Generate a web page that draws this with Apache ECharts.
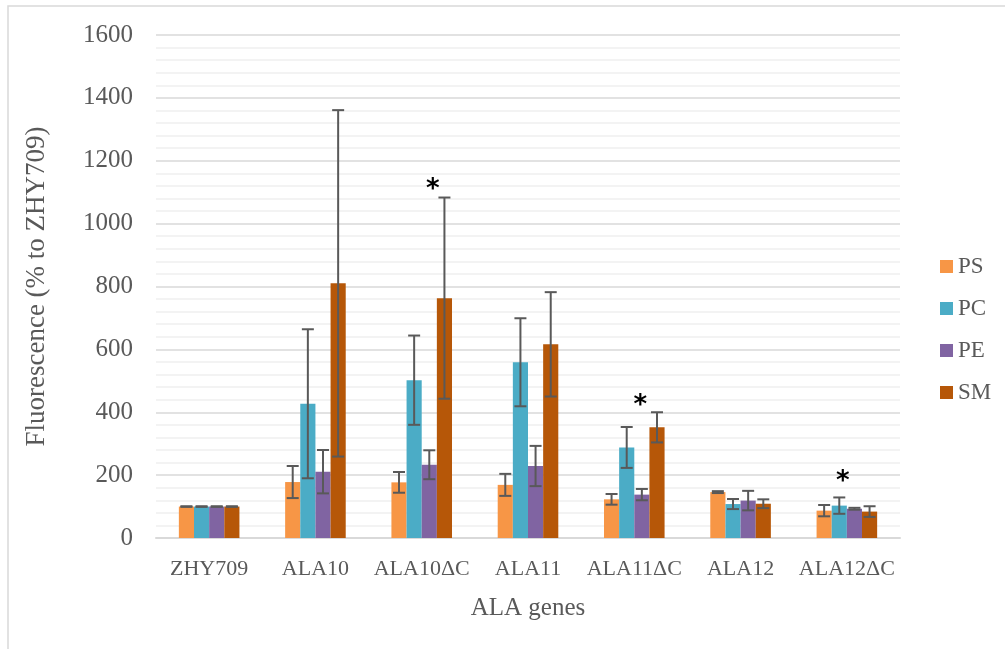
<!DOCTYPE html>
<html>
<head>
<meta charset="utf-8">
<script src="https://cdn.jsdelivr.net/npm/echarts@6/dist/echarts.min.js"></script>
<style>
  html, body { margin: 0; padding: 0; background: #fff; }
  #chart { width: 1005px; height: 649px; }
</style>
</head>
<body>
<div id="chart"></div>
<script>
const categories = ['ZHY709', 'ALA10', 'ALA10ΔC', 'ALA11', 'ALA11ΔC', 'ALA12', 'ALA12ΔC'];
const seriesNames = ['PS', 'PC', 'PE', 'SM'];
const seriesColors = ['#F79646', '#4BACC6', '#8064A2', '#B65708'];

// mean values
const psValues = [100, 178, 177, 169, 123, 146, 87];
const pcValues = [100, 427, 502, 559, 288, 108, 103];
const peValues = [100, 211, 233, 229, 138, 119, 93];
const smValues = [100, 810, 763, 616, 352, 109, 84];

// error (+/-)
const psErrors = [1, 51, 33, 35, 17, 3, 18];
const pcErrors = [1, 237, 142, 140, 65, 16, 26];
const peErrors = [1, 69, 46, 64, 18, 31, 3];
const smErrors = [1, 551, 320, 166, 48, 14, 17];

// significance stars
const starCategories = ['ALA10ΔC', 'ALA11ΔC', 'ALA12ΔC'];
const starValues = [1123, 436, 194];
const starShift = [11, 6, -4];

const yTicks = [0, 200, 400, 600, 800, 1000, 1200, 1400, 1600];

const allValues = [psValues, pcValues, peValues, smValues];
const allErrors = [psErrors, pcErrors, peErrors, smErrors];

const chart = echarts.init(document.getElementById('chart'), null, {renderer: 'canvas'});
const font = 'Liberation Serif';
const textGray = '#595959';
const barCategoryGap = 0.43;

const barSeries = seriesNames.map((name, i) => ({
    name: name,
    type: 'bar',
    data: allValues[i],
    barGap: '0%',
    barCategoryGap: (barCategoryGap * 100) + '%',
    itemStyle: {color: seriesColors[i]},
    z: 2
}));

const errorSeries = seriesNames.map((name, i) => ({
    type: 'custom',
    name: name + ' err',
    z: 5,
    silent: true,
    data: allValues[i].map((v, k) => [k, v - allErrors[i][k], v + allErrors[i][k]]),
    renderItem: function (params, api) {
        const k = api.value(0);
        const lo = api.coord([k, api.value(1)]);
        const hi = api.coord([k, api.value(2)]);
        const band = api.size([1, 0])[0];
        const bw = band * (1 - barCategoryGap) / 4;
        const x = lo[0] + (i - 1.5) * bw;
        const cap = 6;
        const style = {stroke: '#595959', lineWidth: 2};
        return {
            type: 'group',
            children: [
                {type: 'line', shape: {x1: x, y1: lo[1], x2: x, y2: hi[1]}, style: style},
                {type: 'line', shape: {x1: x - cap, y1: lo[1], x2: x + cap, y2: lo[1]}, style: style},
                {type: 'line', shape: {x1: x - cap, y1: hi[1], x2: x + cap, y2: hi[1]}, style: style}
            ]
        };
    }
}));

const starSeries = {
    type: 'custom',
    name: 'stars',
    z: 6,
    silent: true,
    data: starCategories.map((c, k) => [categories.indexOf(c), starValues[k], starShift[k]]),
    renderItem: function (params, api) {
        const p = api.coord([api.value(0), api.value(1)]);
        return {
            type: 'text',
            x: p[0] + api.value(2),
            y: p[1] + 5,
            style: {
                text: '*',
                fontFamily: 'DejaVu Sans',
                fontWeight: 'bold',
                fontSize: 26,
                fill: '#000',
                align: 'center',
                verticalAlign: 'middle'
            }
        };
    }
};

const option = {
    animation: false,
    backgroundColor: '#fff',
    graphic: [{
        type: 'rect',
        shape: {x: 8, y: 6, width: 1200, height: 800},
        style: {fill: 'none', stroke: '#d9d9d9', lineWidth: 1.5},
        silent: true
    }],
    legend: {
        orient: 'vertical',
        left: 935,
        top: 250,
        itemWidth: 13,
        itemHeight: 13,
        itemGap: 19,
        icon: 'rect',
        data: seriesNames,
        textStyle: {fontFamily: font, fontSize: 23, color: textGray}
    },
    grid: {left: 156, right: 105, top: 35, bottom: 111},
    xAxis: {
        type: 'category',
        data: categories,
        name: 'ALA genes',
        nameLocation: 'middle',
        nameGap: 58,
        nameTextStyle: {fontFamily: font, fontSize: 25, color: textGray},
        axisTick: {show: false},
        axisLine: {lineStyle: {color: '#d9d9d9', width: 2}},
        axisLabel: {fontFamily: font, fontSize: 22, color: textGray, margin: 20, interval: 0}
    },
    yAxis: {
        type: 'value',
        min: yTicks[0],
        max: yTicks[yTicks.length - 1],
        interval: 200,
        name: 'Fluorescence (% to ZHY709)',
        nameLocation: 'middle',
        nameGap: 106,
        nameTextStyle: {fontFamily: font, fontSize: 27, color: textGray},
        axisLine: {show: false},
        axisTick: {show: false},
        axisLabel: {fontFamily: font, fontSize: 25, color: textGray, margin: 23, formatter: v => String(v)},
        splitLine: {lineStyle: {color: '#d9d9d9', width: 1.5}},
        minorTick: {show: false, splitNumber: 5},
        minorSplitLine: {show: true, lineStyle: {color: '#f0f0f0', width: 1.5}}
    },
    series: [...barSeries, ...errorSeries, starSeries]
};

chart.setOption(option);
window.addEventListener('resize', chart.resize);
</script>
</body>
</html>
